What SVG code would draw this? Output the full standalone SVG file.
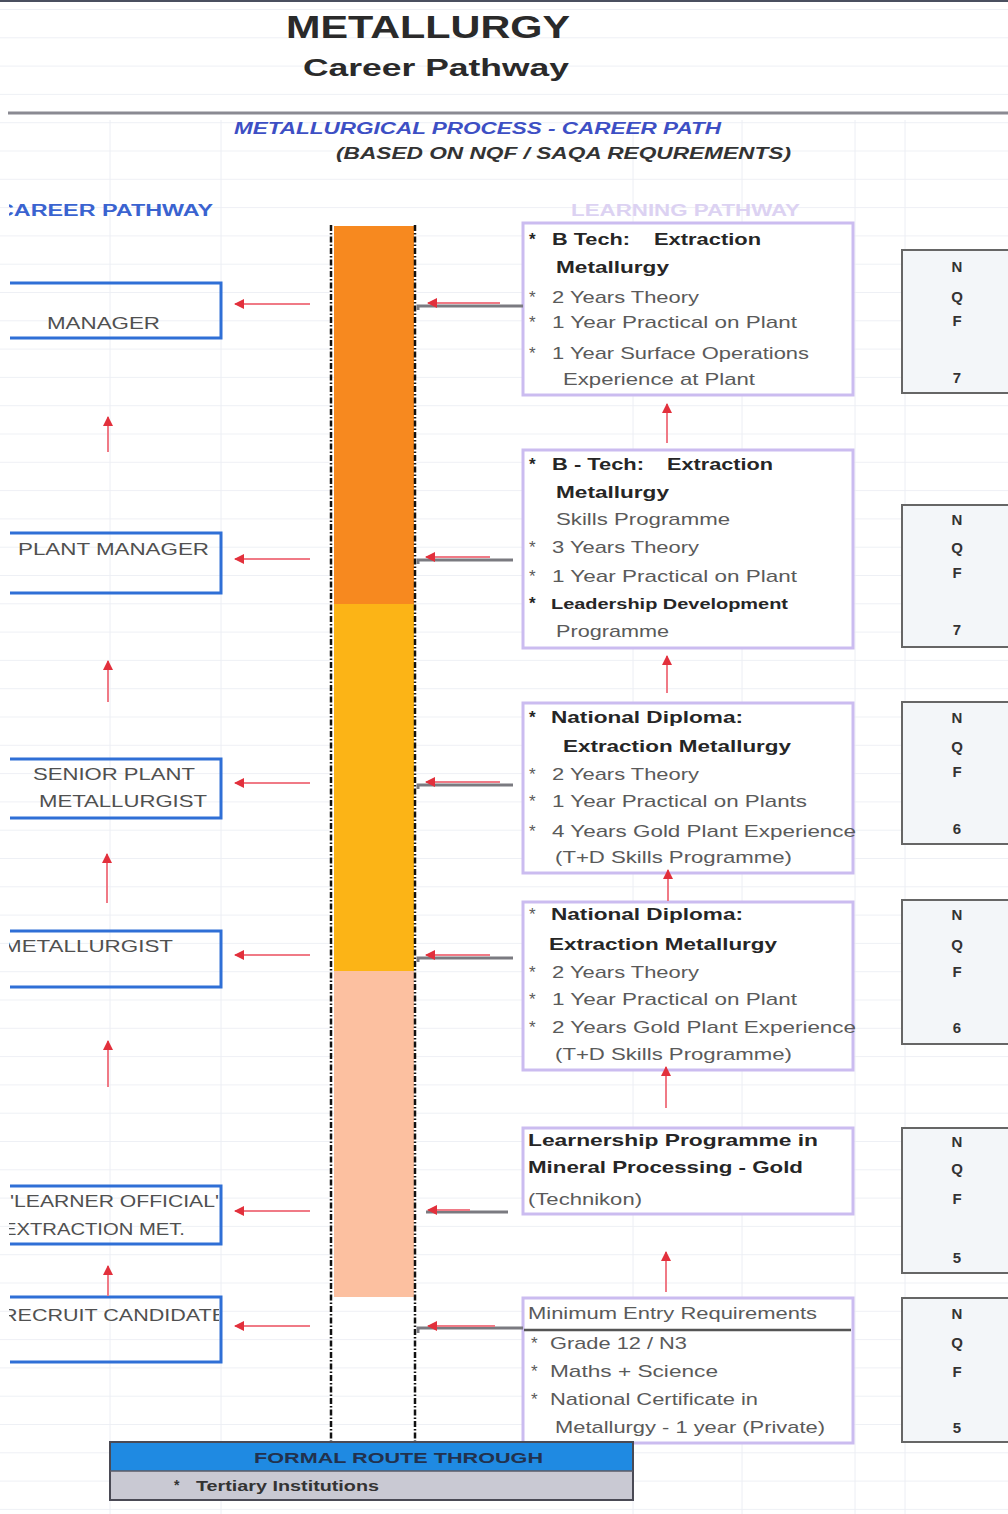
<svg xmlns="http://www.w3.org/2000/svg" width="1008" height="1514" viewBox="0 0 1008 1514">
<style>
text{font-family:"Liberation Sans",Arial,sans-serif}
.t{font-size:17px;fill:#5a5a5a}
.h{font-size:17px;font-weight:bold;fill:#262626}
.lb{font-size:17px;fill:#505050}
.nq{font-size:15px;font-weight:bold;fill:#333;text-anchor:middle}
.lbox{fill:none;stroke:#2f6fd6;stroke-width:3}
.rbox{fill:#fff;stroke:#cbbcf0;stroke-width:3}
.nbox{fill:#f3f6f9;stroke:#666;stroke-width:2}
.ra{stroke:#f07a86;stroke-width:2;fill:none}
.ga{stroke:#7a7a80;stroke-width:3;fill:none}
.dash{stroke:#111;stroke-width:2.5;stroke-dasharray:6 2 1.5 2;fill:none}
.grid{stroke:#eceef4;stroke-width:1}
</style>
<defs>
<marker id="ah" viewBox="0 0 10 10" refX="9" refY="5" markerWidth="5" markerHeight="5" orient="auto-start-reverse" markerUnits="strokeWidth">
<path d="M0,0 L10,5 L0,10 z" fill="#e2303c"/>
</marker>
<pattern id="rows" patternUnits="userSpaceOnUse" x="0" y="9" width="1008" height="28.3">
<line x1="0" y1="0.5" x2="1008" y2="0.5" stroke="#eef0f5" stroke-width="1"/>
</pattern>
<clipPath id="lc"><rect x="9" y="0" width="210" height="1514"/></clipPath>
</defs>
<rect width="1008" height="1514" fill="#fff"/>
<rect width="1008" height="1514" fill="url(#rows)"/>
<g id="grid">
<line class="grid" x1="110" y1="120" x2="110" y2="1514"/>
<line class="grid" x1="221" y1="120" x2="221" y2="1514"/>
<line class="grid" x1="633" y1="120" x2="633" y2="1514"/>
<line class="grid" x1="742" y1="120" x2="742" y2="1514"/>
<line class="grid" x1="855" y1="120" x2="855" y2="1514"/>
<line class="grid" x1="905" y1="120" x2="905" y2="1514"/>
</g>
<line x1="0" y1="1" x2="1008" y2="1" stroke="#4a4f60" stroke-width="2"/>
<line x1="8" y1="113" x2="1008" y2="113" stroke="#8a8a92" stroke-width="3"/>

<g id="titles">
<text x="286" y="38" textLength="284" lengthAdjust="spacingAndGlyphs" style="font-size:32px;font-weight:bold;fill:#2a2a2a">METALLURGY</text>
<text x="303" y="76" textLength="266" lengthAdjust="spacingAndGlyphs" style="font-size:24px;font-weight:bold;fill:#2a2a2a">Career Pathway</text>
<text x="234" y="134" textLength="487" lengthAdjust="spacingAndGlyphs" style="font-size:16px;font-weight:bold;font-style:italic;fill:#3d4fc4">METALLURGICAL PROCESS - CAREER PATH</text>
<text x="336" y="159" textLength="455" lengthAdjust="spacingAndGlyphs" style="font-size:16px;font-weight:bold;font-style:italic;fill:#333">(BASED ON NQF / SAQA REQUREMENTS)</text>
<g clip-path="url(#lc)"><text x="-3" y="216" textLength="216" lengthAdjust="spacingAndGlyphs" style="font-size:16px;font-weight:bold;fill:#3a63d0">CAREER PATHWAY</text></g>
<text x="571" y="216" textLength="229" lengthAdjust="spacingAndGlyphs" style="font-size:16px;font-weight:bold;fill:#dcd2f2">LEARNING PATHWAY</text>
</g>

<g id="column">
<rect x="334" y="226" width="80" height="378" fill="#f7891f"/>
<rect x="334" y="604" width="80" height="367" fill="#fcb416"/>
<rect x="334" y="971" width="80" height="326" fill="#fcc0a0"/>
<line class="dash" x1="331" y1="225" x2="331" y2="1442"/>
<line class="dash" x1="415" y1="225" x2="415" y2="1442"/>
</g>

<g id="career-boxes">
<g id="manager"><path class="lbox" d="M10,283 H221 V338 H10"/><text class="lb" x="47" y="329" textLength="113" lengthAdjust="spacingAndGlyphs">MANAGER</text></g>
<g id="plant-manager"><path class="lbox" d="M10,533 H221 V593 H10"/><text class="lb" x="18" y="555" textLength="191" lengthAdjust="spacingAndGlyphs">PLANT MANAGER</text></g>
<g id="senior-plant-metallurgist"><path class="lbox" d="M10,759 H221 V818 H10"/><text class="lb" x="33" y="780" textLength="162" lengthAdjust="spacingAndGlyphs">SENIOR PLANT</text><text class="lb" x="39" y="807" textLength="168" lengthAdjust="spacingAndGlyphs">METALLURGIST</text></g>
<g id="metallurgist"><path class="lbox" d="M10,931 H221 V987 H10"/><text class="lb" x="3" y="952" textLength="170" lengthAdjust="spacingAndGlyphs" clip-path="url(#lc)">METALLURGIST</text></g>
<g id="learner-official"><path class="lbox" d="M10,1186 H221 V1244 H10"/><text class="lb" x="10" y="1207" textLength="209" lengthAdjust="spacingAndGlyphs" clip-path="url(#lc)">'LEARNER OFFICIAL'</text><text class="lb" x="3" y="1235" textLength="182" lengthAdjust="spacingAndGlyphs" clip-path="url(#lc)">EXTRACTION MET.</text></g>
<g id="recruit-candidate"><path class="lbox" d="M10,1297 H221 V1362 H10"/><text class="lb" x="2" y="1321" textLength="224" lengthAdjust="spacingAndGlyphs" clip-path="url(#lc)">RECRUIT CANDIDATE</text></g>
</g>

<g id="learning-boxes">
<g id="btech-1">
<rect class="rbox" x="523" y="223" width="330" height="172"/>
<text class="h" x="529" y="245">*</text><text class="h" x="552" y="245" textLength="78" lengthAdjust="spacingAndGlyphs">B Tech:</text><text class="h" x="654" y="245" textLength="107" lengthAdjust="spacingAndGlyphs">Extraction</text>
<text class="h" x="556" y="273" textLength="113" lengthAdjust="spacingAndGlyphs">Metallurgy</text>
<text class="t" x="529" y="303">*</text><text class="t" x="552" y="303" textLength="147" lengthAdjust="spacingAndGlyphs">2 Years Theory</text>
<text class="t" x="529" y="328">*</text><text class="t" x="552" y="328" textLength="245" lengthAdjust="spacingAndGlyphs">1 Year Practical on Plant</text>
<text class="t" x="529" y="359">*</text><text class="t" x="552" y="359" textLength="257" lengthAdjust="spacingAndGlyphs">1 Year Surface Operations</text>
<text class="t" x="563" y="385" textLength="192" lengthAdjust="spacingAndGlyphs">Experience at Plant</text>
</g>
<g id="btech-2">
<rect class="rbox" x="523" y="450" width="330" height="198"/>
<text class="h" x="529" y="470">*</text><text class="h" x="552" y="470" textLength="92" lengthAdjust="spacingAndGlyphs">B - Tech:</text><text class="h" x="667" y="470" textLength="106" lengthAdjust="spacingAndGlyphs">Extraction</text>
<text class="h" x="556" y="498" textLength="113" lengthAdjust="spacingAndGlyphs">Metallurgy</text>
<text class="t" x="556" y="525" textLength="174" lengthAdjust="spacingAndGlyphs">Skills Programme</text>
<text class="t" x="529" y="553">*</text><text class="t" x="552" y="553" textLength="147" lengthAdjust="spacingAndGlyphs">3 Years Theory</text>
<text class="t" x="529" y="582">*</text><text class="t" x="552" y="582" textLength="245" lengthAdjust="spacingAndGlyphs">1 Year Practical on Plant</text>
<text class="h" x="529" y="609">*</text><text class="h" x="551" y="609" textLength="237" lengthAdjust="spacingAndGlyphs" style="font-size:14px">Leadership Development</text>
<text class="t" x="556" y="637" textLength="113" lengthAdjust="spacingAndGlyphs">Programme</text>
</g>
<g id="national-diploma-1">
<rect class="rbox" x="523" y="703" width="330" height="170"/>
<text class="h" x="529" y="723">*</text><text class="h" x="551" y="723" textLength="192" lengthAdjust="spacingAndGlyphs">National Diploma:</text>
<text class="h" x="563" y="752" textLength="228" lengthAdjust="spacingAndGlyphs">Extraction Metallurgy</text>
<text class="t" x="529" y="780">*</text><text class="t" x="552" y="780" textLength="147" lengthAdjust="spacingAndGlyphs">2 Years Theory</text>
<text class="t" x="529" y="807">*</text><text class="t" x="552" y="807" textLength="255" lengthAdjust="spacingAndGlyphs">1 Year Practical on Plants</text>
<text class="t" x="529" y="837">*</text><text class="t" x="552" y="837" textLength="304" lengthAdjust="spacingAndGlyphs">4 Years Gold Plant Experience</text>
<text class="t" x="555" y="863" textLength="237" lengthAdjust="spacingAndGlyphs">(T+D Skills Programme)</text>
</g>
<g id="national-diploma-2">
<rect class="rbox" x="523" y="902" width="330" height="168"/>
<text class="t" x="529" y="920">*</text><text class="h" x="551" y="920" textLength="192" lengthAdjust="spacingAndGlyphs">National Diploma:</text>
<text class="h" x="549" y="950" textLength="228" lengthAdjust="spacingAndGlyphs">Extraction Metallurgy</text>
<text class="t" x="529" y="978">*</text><text class="t" x="552" y="978" textLength="147" lengthAdjust="spacingAndGlyphs">2 Years Theory</text>
<text class="t" x="529" y="1005">*</text><text class="t" x="552" y="1005" textLength="245" lengthAdjust="spacingAndGlyphs">1 Year Practical on Plant</text>
<text class="t" x="529" y="1033">*</text><text class="t" x="552" y="1033" textLength="304" lengthAdjust="spacingAndGlyphs">2 Years Gold Plant Experience</text>
<text class="t" x="555" y="1060" textLength="237" lengthAdjust="spacingAndGlyphs">(T+D Skills Programme)</text>
</g>
<g id="learnership">
<rect class="rbox" x="523" y="1128" width="330" height="86"/>
<text class="h" x="528" y="1146" textLength="290" lengthAdjust="spacingAndGlyphs">Learnership Programme in</text>
<text class="h" x="528" y="1173" textLength="275" lengthAdjust="spacingAndGlyphs">Mineral Processing - Gold</text>
<text class="t" x="528" y="1205" textLength="114" lengthAdjust="spacingAndGlyphs">(Technikon)</text>
</g>
<g id="minimum-entry">
<rect class="rbox" x="523" y="1298" width="330" height="145"/>
<line x1="524" y1="1330" x2="851" y2="1330" stroke="#555" stroke-width="2.5"/>
<text class="t" x="528" y="1319" textLength="289" lengthAdjust="spacingAndGlyphs">Minimum Entry Requirements</text>
<text class="t" x="531" y="1349">*</text><text class="t" x="550" y="1349" textLength="137" lengthAdjust="spacingAndGlyphs">Grade 12 / N3</text>
<text class="t" x="531" y="1377">*</text><text class="t" x="550" y="1377" textLength="168" lengthAdjust="spacingAndGlyphs">Maths + Science</text>
<text class="t" x="531" y="1405">*</text><text class="t" x="550" y="1405" textLength="208" lengthAdjust="spacingAndGlyphs">National Certificate in</text>
<text class="t" x="555" y="1433" textLength="270" lengthAdjust="spacingAndGlyphs">Metallurgy - 1 year (Private)</text>
</g>
</g>

<g id="nqf-boxes">
<g id="nqf-7a"><rect class="nbox" x="902" y="250" width="112" height="143"/><text class="nq" x="957" y="272">N</text><text class="nq" x="957" y="302">Q</text><text class="nq" x="957" y="326">F</text><text class="nq" x="957" y="383">7</text></g>
<g id="nqf-7b"><rect class="nbox" x="902" y="505" width="112" height="142"/><text class="nq" x="957" y="525">N</text><text class="nq" x="957" y="553">Q</text><text class="nq" x="957" y="578">F</text><text class="nq" x="957" y="635">7</text></g>
<g id="nqf-6a"><rect class="nbox" x="902" y="702" width="112" height="142"/><text class="nq" x="957" y="723">N</text><text class="nq" x="957" y="752">Q</text><text class="nq" x="957" y="777">F</text><text class="nq" x="957" y="834">6</text></g>
<g id="nqf-6b"><rect class="nbox" x="902" y="900" width="112" height="144"/><text class="nq" x="957" y="920">N</text><text class="nq" x="957" y="950">Q</text><text class="nq" x="957" y="977">F</text><text class="nq" x="957" y="1033">6</text></g>
<g id="nqf-5a"><rect class="nbox" x="902" y="1128" width="112" height="145"/><text class="nq" x="957" y="1147">N</text><text class="nq" x="957" y="1174">Q</text><text class="nq" x="957" y="1204">F</text><text class="nq" x="957" y="1263">5</text></g>
<g id="nqf-5b"><rect class="nbox" x="902" y="1298" width="112" height="144"/><text class="nq" x="957" y="1319">N</text><text class="nq" x="957" y="1348">Q</text><text class="nq" x="957" y="1377">F</text><text class="nq" x="957" y="1433">5</text></g>
</g>

<g id="connectors">
<g id="left-arrows">
<line class="ra" x1="310" y1="304" x2="235" y2="304" marker-end="url(#ah)"/>
<line class="ra" x1="310" y1="559" x2="235" y2="559" marker-end="url(#ah)"/>
<line class="ra" x1="310" y1="783" x2="235" y2="783" marker-end="url(#ah)"/>
<line class="ra" x1="310" y1="955" x2="235" y2="955" marker-end="url(#ah)"/>
<line class="ra" x1="310" y1="1211" x2="235" y2="1211" marker-end="url(#ah)"/>
<line class="ra" x1="310" y1="1326" x2="235" y2="1326" marker-end="url(#ah)"/>
</g>
<g id="right-links">
<path class="ga" d="M418,310 V306 H523"/>
<path class="ga" d="M418,564 V560 H513"/>
<path class="ga" d="M418,789 V785 H513"/>
<path class="ga" d="M418,962 V958 H513"/>
<path class="ga" d="M426,1212 H508"/>
<path class="ga" d="M418,1333 V1328 H523"/>
<line class="ra" x1="500" y1="303" x2="428" y2="303" marker-end="url(#ah)"/>
<line class="ra" x1="490" y1="557" x2="426" y2="557" marker-end="url(#ah)"/>
<line class="ra" x1="500" y1="782" x2="426" y2="782" marker-end="url(#ah)"/>
<line class="ra" x1="490" y1="955" x2="426" y2="955" marker-end="url(#ah)"/>
<line class="ra" x1="470" y1="1210" x2="428" y2="1210" marker-end="url(#ah)"/>
<line class="ra" x1="495" y1="1326" x2="428" y2="1326" marker-end="url(#ah)"/>
</g>
<g id="up-arrows">
<line class="ra" x1="108" y1="452" x2="108" y2="417" marker-end="url(#ah)"/>
<line class="ra" x1="108" y1="702" x2="108" y2="661" marker-end="url(#ah)"/>
<line class="ra" x1="107" y1="903" x2="107" y2="854" marker-end="url(#ah)"/>
<line class="ra" x1="108" y1="1087" x2="108" y2="1041" marker-end="url(#ah)"/>
<line class="ra" x1="108" y1="1296" x2="108" y2="1266" marker-end="url(#ah)"/>
<line class="ra" x1="667" y1="443" x2="667" y2="404" marker-end="url(#ah)"/>
<line class="ra" x1="667" y1="693" x2="667" y2="656" marker-end="url(#ah)"/>
<line class="ra" x1="668" y1="901" x2="668" y2="870" marker-end="url(#ah)"/>
<line class="ra" x1="666" y1="1108" x2="666" y2="1067" marker-end="url(#ah)"/>
<line class="ra" x1="666" y1="1292" x2="666" y2="1252" marker-end="url(#ah)"/>
</g>
</g>

<g id="formal-route">
<rect x="110" y="1442" width="523" height="29" fill="#1f8ae2"/>
<rect x="110" y="1471" width="523" height="29" fill="#c9c9d3"/>
<rect x="110" y="1442" width="523" height="58" fill="none" stroke="#4a4a55" stroke-width="2"/>
<line x1="110" y1="1471" x2="633" y2="1471" stroke="#5a5a66" stroke-width="1.5"/>
<text x="254" y="1463" textLength="289" lengthAdjust="spacingAndGlyphs" style="font-size:15px;font-weight:bold;fill:#22324e">FORMAL ROUTE THROUGH</text>
<text x="174" y="1490" style="font-size:14px;font-weight:bold;fill:#333">*</text>
<text x="196" y="1491" textLength="183" lengthAdjust="spacingAndGlyphs" style="font-size:15px;font-weight:bold;fill:#333">Tertiary Institutions</text>
</g>
</svg>
